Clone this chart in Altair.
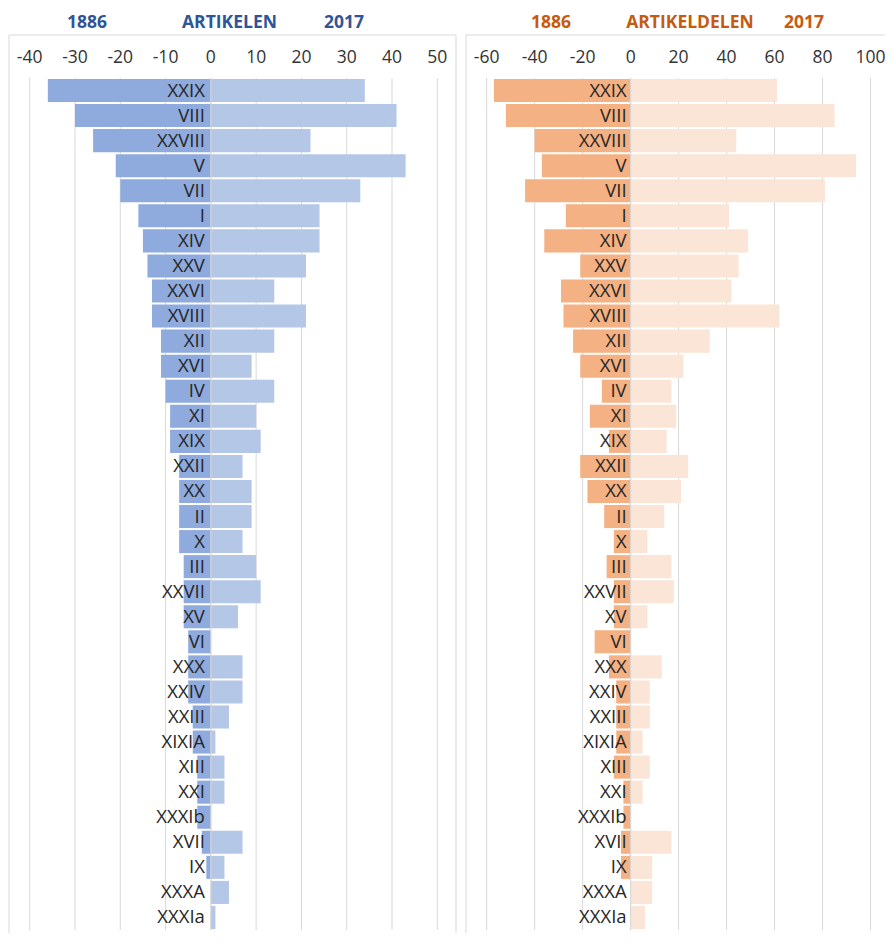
import altair as alt
import pandas as pd

categories = ["XXIX", "VIII", "XXVIII", "V", "VII", "I", "XIV", "XXV", "XXVI", "XVIII",
              "XII", "XVI", "IV", "XI", "XIX", "XXII", "XX", "II", "X", "III",
              "XXVII", "XV", "VI", "XXX", "XXIV", "XXIII", "XIXIA", "XIII", "XXI",
              "XXXIb", "XVII", "IX", "XXXA", "XXXIa"]

artikelen_1886 = [36, 30, 26, 21, 20, 16, 15, 14, 13, 13, 11, 11, 10, 9, 9, 7, 7, 7, 7, 6,
                  6, 6, 5, 5, 5, 4, 4, 3, 3, 3, 2, 1, 0, 0]
artikelen_2017 = [34, 41, 22, 43, 33, 24, 24, 21, 14, 21, 14, 9, 14, 10, 11, 7, 9, 9, 7, 10,
                  11, 6, 0, 7, 7, 4, 1, 3, 3, 0, 7, 3, 4, 1]
artikeldelen_1886 = [57, 52, 40, 37, 44, 27, 36, 21, 29, 28, 24, 21, 12, 17, 9, 21, 18, 11, 7, 10,
                     7, 7, 15, 9, 6, 6, 6, 7, 3, 3, 4, 4, 0, 0]
artikeldelen_2017 = [61, 85, 44, 94, 81, 41, 49, 45, 42, 62, 33, 22, 17, 19, 15, 24, 21, 14, 7, 17,
                     18, 7, 0, 13, 8, 8, 5, 8, 5, 0, 17, 9, 9, 6]

ticks_left = [-40, -30, -20, -10, 0, 10, 20, 30, 40, 50]
ticks_right = [-60, -40, -20, 0, 20, 40, 60, 80, 100]

FONT = "Open Sans"
GRID = "#D9D9D9"
H = 926
Y0, Y1 = 70, 922


def panel(v_old, v_new, domain, rng, ticks, c_old, c_new, head_color, headers, head_x,
          lab_dx, frame_left, frame_right, width):
    rows = []
    for c, a, b in zip(categories, v_old, v_new):
        rows.append({"cat": c, "year": "1886", "start": -a, "end": 0})
        rows.append({"cat": c, "year": "2017", "start": 0, "end": b})
    bars_df = pd.DataFrame(rows)
    lab_df = pd.DataFrame({"cat": categories, "zero": [0] * len(categories)})
    tick_df = pd.DataFrame({"v": ticks, "t": [str(t) for t in ticks]})
    zero_df = pd.DataFrame({"v": [0]})

    xs = alt.Scale(domain=domain, range=rng, nice=False, zero=False)
    ys = alt.Scale(domain=categories, range=[Y0, Y1], paddingInner=0.08, paddingOuter=0.04)

    grid = alt.Chart(tick_df).mark_rule(color=GRID, strokeWidth=1).encode(
        x=alt.X("v:Q", scale=xs, axis=None),
        y=alt.value(Y0), y2=alt.value(Y1))

    ticklab = alt.Chart(tick_df).mark_text(
        font=FONT, fontSize=17.5, color="#333333", baseline="alphabetic", align="center"
    ).encode(x=alt.X("v:Q", scale=xs, axis=None), y=alt.value(55.3), text="t:N")

    bars = alt.Chart(bars_df).mark_bar().encode(
        x=alt.X("start:Q", scale=xs, axis=None),
        x2="end:Q",
        y=alt.Y("cat:N", sort=categories, scale=ys, axis=None),
        color=alt.Color("year:N", scale=alt.Scale(domain=["1886", "2017"], range=[c_old, c_new]),
                        legend=None))

    zero = alt.Chart(zero_df).mark_rule(color=GRID, strokeWidth=1).encode(
        x=alt.X("v:Q", scale=xs, axis=None),
        y=alt.value(Y0), y2=alt.value(Y1))

    labels = alt.Chart(lab_df).mark_text(
        font=FONT, fontSize=18.5, color="#262626", align="right", baseline="middle", dx=lab_dx
    ).encode(x=alt.X("zero:Q", scale=xs, axis=None),
             y=alt.Y("cat:N", sort=categories, scale=ys, axis=None),
             text="cat:N")

    layers = [grid, ticklab, bars, zero, labels]

    for h, hx in zip(headers, head_x):
        layers.append(
            alt.Chart(pd.DataFrame({"t": [h]})).mark_text(
                font=FONT, fontSize=17.5, fontWeight="bold", color=head_color,
                align="center", baseline="alphabetic"
            ).encode(x=alt.value(hx), y=alt.value(19.5), text="t:N"))

    frame_df = pd.DataFrame({"k": [0]})
    layers.append(alt.Chart(frame_df).mark_rule(color=GRID, strokeWidth=1).encode(
        x=alt.value(frame_left), y=alt.value(27), y2=alt.value(H - 1)))
    layers.append(alt.Chart(frame_df).mark_rule(color=GRID, strokeWidth=1).encode(
        x=alt.value(frame_left), x2=alt.value(frame_right), y=alt.value(27)))
    if frame_right < width - 1:
        layers.append(alt.Chart(frame_df).mark_rule(color=GRID, strokeWidth=1).encode(
            x=alt.value(frame_right), y=alt.value(27), y2=alt.value(H - 1)))

    return alt.layer(*layers).properties(width=width, height=H)


left = panel(artikelen_1886, artikelen_2017, [-40, 50], [21.7, 429.3], ticks_left,
             "#8FAADC", "#B4C7E7", "#2F5597", ["1886", "ARTIKELEN", "2017"], [79, 221.5, 336],
             -6, 1, 448, 452)
right = panel(artikeldelen_1886, artikeldelen_2017, [-60, 100], [26.7, 410.5], ticks_right,
              "#F4B183", "#FBE5D6", "#C55A11", ["1886", "ARTIKELDELEN", "2017"], [91, 230, 344],
              -4, 6, 425, 425)

chart = alt.hconcat(left, right, spacing=0).resolve_scale(x="independent", y="independent",
                                                          color="independent").properties(
    padding=0).configure_view(strokeWidth=0)

chart.save("out.html", embed_options={"renderer": "svg", "actions": False})
